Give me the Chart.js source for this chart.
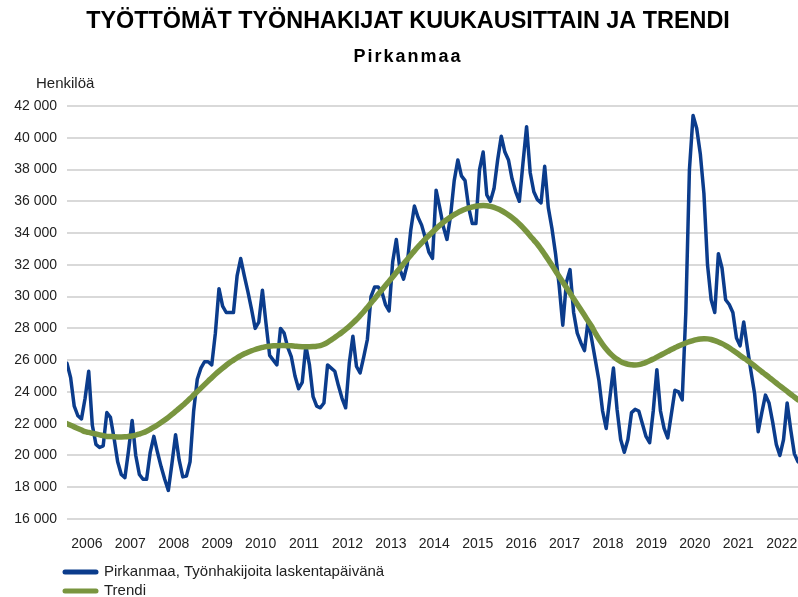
<!DOCTYPE html>
<html>
<head>
<meta charset="utf-8">
<script src="https://cdn.jsdelivr.net/npm/chart.js@4.4.1/dist/chart.umd.min.js"></script>
<style>
  html, body { margin: 0; padding: 0; background: #fff; }
  #wrap { position: relative; width: 798px; height: 597px; }
</style>
</head>
<body>
<div id="wrap"><canvas id="chart" width="798" height="597"></canvas></div>
<script>
// Year labels on the x axis (one per 12 months, first month = Jan 2006)
const years = ["2006", "2007", "2008", "2009", "2010", "2011", "2012", "2013", "2014",
  "2015", "2016", "2017", "2018", "2019", "2020", "2021", "2022"];

// Pirkanmaa, Työnhakijoita laskentapäivänä - monthly, Jan 2006 ->
const jobseekers = [
  25800, 24900, 23100, 22500, 22300, 23600, 25300, 21900, 20700, 20500, 20600, 22700, // 2006
  22400, 21100, 19600, 18800, 18600, 20300, 22200, 20000, 18800, 18500, 18500, 20200, // 2007
  21200, 20200, 19300, 18500, 17800, 19500, 21300, 19700, 18650, 18700, 19600, 22800, // 2008
  24800, 25500, 25900, 25900, 25700, 27700, 30500, 29400, 29000, 29000, 29000, 31300, // 2009
  32400, 31300, 30300, 29200, 28000, 28400, 30400, 28300, 26300, 26000, 25700, 28000, // 2010
  27700, 26800, 26200, 25000, 24200, 24600, 26900, 25700, 23700, 23100, 23000, 23300, // 2011
  25700, 25500, 25300, 24400, 23600, 23000, 25800, 27500, 25600, 25200, 26200, 27300, // 2012
  30000, 30600, 30600, 30300, 29500, 29100, 32200, 33600, 31700, 31100, 32000, 34200, // 2013
  35700, 35000, 34500, 33700, 32800, 32400, 36700, 35600, 34400, 33600, 35100, 37300, // 2014
  38600, 37600, 37300, 35600, 34600, 34600, 38000, 39100, 36400, 36000, 36800, 38600, // 2015
  40100, 39100, 38600, 37400, 36600, 36000, 38400, 40700, 37800, 36600, 36100, 35900, // 2016
  38200, 35600, 34300, 32700, 30700, 28200, 30900, 31700, 29000, 27700, 27100, 26600, // 2017
  28500, 27300, 26000, 24700, 22800, 21700, 23600, 25500, 22900, 21000, 20200, 21000, // 2018
  22700, 22900, 22800, 22000, 21200, 20800, 22800, 25400, 22800, 21700, 21100, 22600, // 2019
  24100, 24000, 23500, 29000, 38000, 41400, 40600, 39000, 36500, 32000, 29800, 29000, // 2020
  32700, 31800, 29800, 29500, 29000, 27400, 26900, 28400, 26800, 25300, 23900, 21500, // 2021
  22700, 23800, 23300, 22100, 20700, 20000, 21000, 23300, 21600, 20100, 19600           // 2022
];

// Trendi - monthly, same months
const trend = [
  22000, 21900, 21800, 21700, 21600, 21500, 21450, 21400, 21350, 21300, 21250, 21200, // 2006
  21200, 21180, 21170, 21170, 21180, 21200, 21230, 21280, 21350, 21430, 21530, 21650, // 2007
  21780, 21920, 22070, 22230, 22400, 22580, 22770, 22960, 23160, 23370, 23580, 23800, // 2008
  24020, 24240, 24460, 24680, 24900, 25110, 25310, 25500, 25680, 25850, 26000, 26150, // 2009
  26280, 26400, 26500, 26590, 26670, 26740, 26800, 26850, 26880, 26900, 26910, 26920, // 2010
  26920, 26910, 26900, 26880, 26860, 26850, 26850, 26850, 26860, 26880, 26920, 27000, // 2011
  27120, 27270, 27430, 27590, 27760, 27940, 28130, 28340, 28560, 28800, 29050, 29320, // 2012
  29600, 29870, 30150, 30420, 30700, 30970, 31240, 31520, 31790, 32070, 32340, 32610, // 2013
  32880, 33140, 33380, 33620, 33850, 34070, 34280, 34480, 34670, 34850, 35010, 35160, // 2014
  35290, 35400, 35500, 35580, 35640, 35690, 35720, 35730, 35720, 35680, 35620, 35530, // 2015
  35420, 35290, 35140, 34970, 34780, 34570, 34340, 34090, 33820, 33560, 33300, 32990, // 2016
  32660, 32320, 31970, 31620, 31270, 30920, 30570, 30220, 29870, 29520, 29170, 28820, // 2017
  28470, 28120, 27700, 27330, 27000, 26700, 26440, 26230, 26050, 25910, 25810, 25740, // 2018
  25710, 25700, 25720, 25780, 25860, 25960, 26070, 26190, 26310, 26430, 26550, 26670, // 2019
  26780, 26890, 26990, 27080, 27160, 27230, 27290, 27330, 27350, 27340, 27300, 27230, // 2020
  27140, 27040, 26920, 26780, 26620, 26460, 26300, 26140, 25980, 25810, 25630, 25450, // 2021
  25270, 25100, 24920, 24740, 24560, 24380, 24210, 24030, 23850, 23680, 23500           // 2022
];

const yMin = 16000, yMax = 42000, yStep = 2000;

const BLUE = "#0b3c8c";
const GREEN = "#79953f";
const FONT = "'Liberation Sans', Arial, sans-serif";

function spaced(v) {
  return String(v).replace(/\B(?=(\d{3})+(?!\d))/g, " ");
}

// titles, axis caption and legend
const textPlugin = {
  id: "texts",
  afterDraw(chart) {
    const ctx = chart.ctx;
    ctx.save();
    ctx.fillStyle = "#000";
    ctx.textBaseline = "middle";
    ctx.textAlign = "center";
    ctx.font = "bold 23.4px " + FONT;
    ctx.fillText("TYÖTTÖMÄT TYÖNHAKIJAT KUUKAUSITTAIN JA TRENDI", 408, 22);
    ctx.font = "bold 18px " + FONT;
    ctx.letterSpacing = "2px";
    ctx.fillText("Pirkanmaa", 408, 57);
    ctx.letterSpacing = "0px";

    ctx.textAlign = "left";
    ctx.font = "15px " + FONT;
    ctx.fillStyle = "#222";
    ctx.fillText("Henkilöä", 36, 84);

    // legend
    const items = chart.data.datasets;
    const rows = [572, 591];
    items.forEach((ds, k) => {
      ctx.strokeStyle = ds.borderColor;
      ctx.lineWidth = 5;
      ctx.lineCap = "round";
      ctx.beginPath();
      ctx.moveTo(65, rows[k]);
      ctx.lineTo(96, rows[k]);
      ctx.stroke();
      ctx.fillStyle = "#222";
      ctx.font = "15px " + FONT;
      ctx.fillText(ds.label, 104, rows[k]);
    });
    ctx.restore();
  }
};

const ctx = document.getElementById("chart").getContext("2d");

new Chart(ctx, {
  type: "line",
  data: {
    datasets: [
      {
        label: "Pirkanmaa, Työnhakijoita laskentapäivänä",
        data: jobseekers.map((v, i) => ({ x: i, y: v })),
        borderColor: BLUE,
        backgroundColor: BLUE,
        borderWidth: 3.5,
        pointRadius: 0,
        tension: 0,
        borderJoinStyle: "round",
        borderCapStyle: "round",
        order: 1
      },
      {
        label: "Trendi",
        data: trend.map((v, i) => ({ x: i, y: v })),
        borderColor: GREEN,
        backgroundColor: GREEN,
        borderWidth: 5.5,
        pointRadius: 0,
        tension: 0.4,
        borderCapStyle: "round",
        order: 0
      }
    ]
  },
  options: {
    responsive: false,
    animation: false,
    devicePixelRatio: 1,
    layout: { padding: { top: 106, left: 0, right: 0, bottom: 0 } },
    plugins: {
      legend: { display: false },
      tooltip: { enabled: false },
      title: { display: false }
    },
    scales: {
      x: {
        type: "linear",
        min: 0,
        max: jobseekers.length - 1,
        grid: { display: false },
        border: { display: false },
        afterFit(scale) {
          scale.height = 78;
          scale.paddingLeft = 0;
          scale.paddingRight = 0;
        },
        afterBuildTicks(scale) {
          scale.ticks = years.map((y, k) => ({ value: k * 12 + 5.5 }));
        },
        ticks: {
          autoSkip: false,
          maxRotation: 0,
          padding: 9,
          color: "#222",
          font: { family: FONT, size: 14 },
          callback: (v) => years[Math.round((v - 5.5) / 12)]
        }
      },
      y: {
        min: yMin,
        max: yMax,
        afterFit(scale) { scale.width = 67; },
        grid: { color: "#d9d9d9", lineWidth: 2, drawTicks: false },
        border: { display: false },
        ticks: {
          stepSize: yStep,
          padding: 10,
          color: "#222",
          font: { family: FONT, size: 14 },
          callback: (v) => spaced(v)
        }
      }
    }
  },
  plugins: [textPlugin]
});
</script>
</body>
</html>
